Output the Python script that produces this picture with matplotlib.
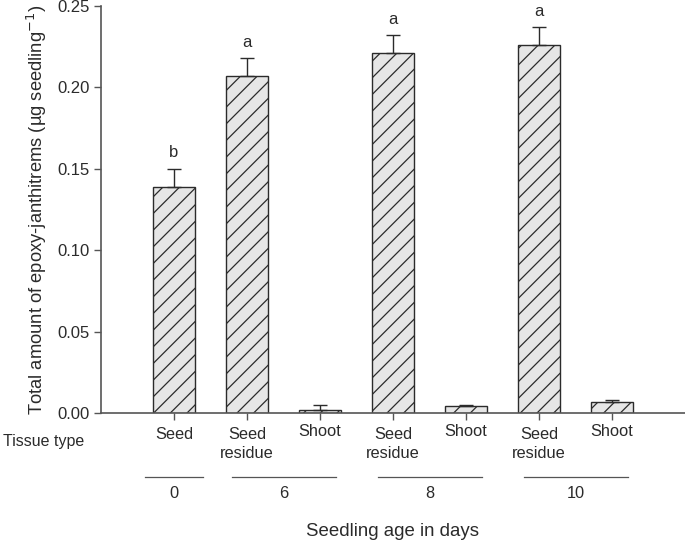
import numpy as np
import matplotlib
matplotlib.use('Agg')
import matplotlib.pyplot as plt
import matplotlib.transforms as mtransforms

plt.rcParams['font.family'] = ['Liberation Sans', 'DejaVu Sans']
plt.rcParams['hatch.linewidth'] = 0.9
plt.rcParams['hatch.color'] = '#2b2b2b'

# data
tissues = ['Seed', 'Seed\nresidue', 'Shoot', 'Seed\nresidue', 'Shoot', 'Seed\nresidue', 'Shoot']
values = [0.139, 0.207, 0.002, 0.221, 0.004, 0.226, 0.007]
errors = [0.011, 0.011, 0.003, 0.011, 0.001, 0.011, 0.001]
letters = ['b', 'a', '', 'a', '', 'a', '']
ages = ['0', '6', '8', '10']
age_groups = [[0], [1, 2], [3, 4], [5, 6]]

x = np.arange(len(values))
dark = '#2b2b2b'

fig = plt.figure(figsize=(6.85, 5.41), dpi=100)
ax = fig.add_axes([0.1474, 0.2366, 0.8526, 0.7524])

ax.bar(x, values, width=0.58, color='#e6e6e6', edgecolor=dark, linewidth=1.0,
       hatch='//', zorder=2)
ax.errorbar(x, values, yerr=[np.zeros(len(errors)), errors], fmt='none',
            ecolor=dark, elinewidth=1.0, capsize=4.7, capthick=1.0, zorder=3)

for xi, v, e, lab in zip(x, values, errors, letters):
    if lab:
        ax.annotate(lab, (xi, v + e), xytext=(0, 6), textcoords='offset points',
                    ha='center', va='bottom', fontsize=12, color=dark)

ax.set_xlim(-1, 7)
ax.set_ylim(0, 0.25)
ax.set_yticks([0, 0.05, 0.10, 0.15, 0.20, 0.25])
ax.set_yticklabels(['0.00', '0.05', '0.10', '0.15', '0.20', '0.25'])
ax.set_xticks(x)
ax.set_xticklabels([])
ax.tick_params(axis='both', direction='out', length=5, width=1.0, color='#555555',
               labelsize=12, labelcolor=dark)
ax.tick_params(axis='y', pad=3)

for s in ['top', 'right']:
    ax.spines[s].set_visible(False)
for s in ['left', 'bottom']:
    ax.spines[s].set_color('#555555')
    ax.spines[s].set_linewidth(1.2)

ax.set_ylabel('Total amount of epoxy-janthitrems (µg seedling$^{-1}$)',
              fontsize=13.2, color=dark, labelpad=6)

# tissue labels under each bar
trans = mtransforms.blended_transform_factory(ax.transData, fig.transFigure)
for xi, t in zip(x, tissues):
    y0 = 1 - 436 / 541 if t == 'Shoot' else 1 - 439 / 541
    lines = t.split('\n')
    for k, line in enumerate(lines):
        ax.text(xi, y0 - k * 19 / 541, line, transform=trans, ha='center',
                va='baseline', fontsize=11.8, color=dark)
fig.text(3 / 685, 1 - 446 / 541, 'Tissue type', ha='left', va='baseline',
         fontsize=11.5, color=dark)

# seedling age groups
for age, grp in zip(ages, age_groups):
    if len(grp) == 1:
        lo, hi = grp[0] - 0.4, grp[0] + 0.4
    else:
        lo, hi = min(grp) - 0.21, max(grp) + 0.22
    ax.plot([lo, hi], [1 - 477 / 541] * 2, transform=trans, color='#555555',
            lw=0.9, clip_on=False)
    ax.text(np.mean(grp), 1 - 498 / 541, age, transform=trans, ha='center',
            va='baseline', fontsize=11.8, color=dark)

fig.text(393 / 685, 1 - 536 / 541, 'Seedling age in days', ha='center',
         va='baseline', fontsize=13.4, color=dark)

fig.savefig('out.png', dpi=100, facecolor='w')
